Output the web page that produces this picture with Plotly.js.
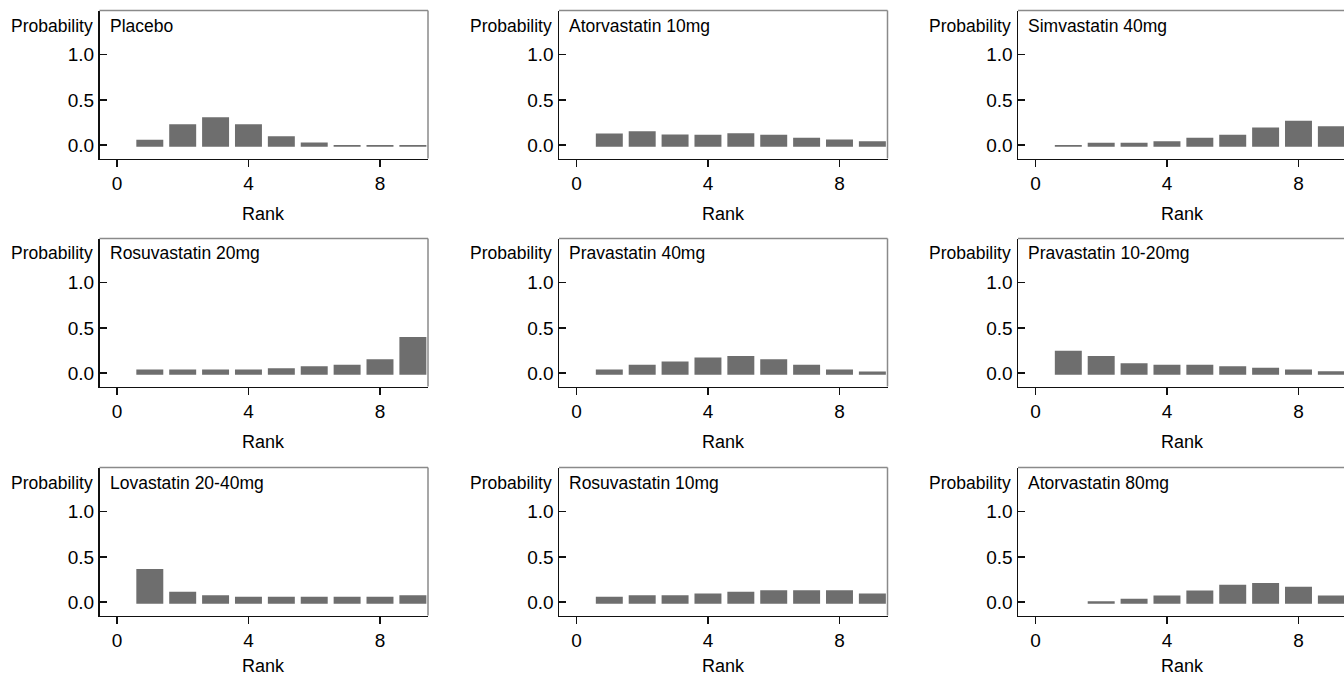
<!DOCTYPE html>
<html>
<head>
<meta charset="utf-8">
<script src="https://cdn.plot.ly/plotly-3.0.1.min.js"></script>
<style>
html, body { margin: 0; padding: 0; background: #fff; overflow: hidden; }
#chart { width: 1348px; height: 678px; }
</style>
</head>
<body>
<div id="chart"></div>
<script>
// ---- Data ----
const ranks = [1, 2, 3, 4, 5, 6, 7, 8, 9];
const treatments = [
  "Placebo", "Atorvastatin 10mg", "Simvastatin 40mg",
  "Rosuvastatin 20mg", "Pravastatin 40mg", "Pravastatin 10-20mg",
  "Lovastatin 20-40mg", "Rosuvastatin 10mg", "Atorvastatin 80mg"
];
const placebo     = [0.06, 0.23, 0.31, 0.23, 0.10, 0.03, 0.001, 0.001, 0.001];
const atorva10    = [0.13, 0.155, 0.118, 0.114, 0.132, 0.114, 0.081, 0.063, 0.044];
const simva40     = [0.002, 0.026, 0.026, 0.044, 0.081, 0.114, 0.195, 0.269, 0.21];
const rosuva20    = [0.04, 0.04, 0.04, 0.04, 0.055, 0.077, 0.092, 0.155, 0.40];
const prava40     = [0.04, 0.092, 0.13, 0.174, 0.189, 0.155, 0.092, 0.04, 0.018];
const prava1020   = [0.248, 0.189, 0.111, 0.092, 0.092, 0.077, 0.059, 0.04, 0.022];
const lova2040    = [0.367, 0.115, 0.078, 0.06, 0.06, 0.06, 0.06, 0.06, 0.078];
const rosuva10    = [0.06, 0.078, 0.078, 0.096, 0.115, 0.133, 0.133, 0.133, 0.096];
const atorva80    = [null, 0.01, 0.037, 0.074, 0.13, 0.193, 0.211, 0.171, 0.074];
const seriesList = [placebo, atorva10, simva40, rosuva20, prava40, prava1020, lova2040, rosuva10, atorva80];
const xTicks = [0, 4, 8];
const yTicks = [0, 0.5, 1.0];
const yTickLabels = ["0.0", "0.5", "1.0"];

// ---- Geometry / style ----
const W = 1348, H = 678;
const colLeft = [99.5, 559, 1018];
const rowTop = [10.5, 238.5, 467.5];
const boxW = 328.5, boxH = 148;
const barBase = -0.018;
const barColor = "#6e6e6e";
const font = "Liberation Sans, Arial, Helvetica, sans-serif";

const data = [];
const layout = {
  width: W, height: H,
  margin: {l: 0, r: 0, t: 0, b: 0},
  paper_bgcolor: "#ffffff", plot_bgcolor: "#ffffff",
  showlegend: false,
  font: {family: font, size: 17, color: "#000"},
  annotations: [], shapes: []
};

seriesList.forEach((vals, i) => {
  const r = Math.floor(i / 3), c = i % 3;
  const n = i + 1;
  const xa = n === 1 ? "x" : "x" + n;
  const ya = n === 1 ? "y" : "y" + n;
  const left = colLeft[c], top = rowTop[r];
  const right = left + boxW, bottom = top + boxH;

  data.push({
    type: "bar",
    x: ranks,
    y: vals.map(v => v == null ? null : v - barBase),
    base: barBase,
    width: 0.82,
    marker: {color: barColor, line: {width: 0}},
    xaxis: xa, yaxis: ya,
    hoverinfo: "skip"
  });

  layout["xaxis" + (n === 1 ? "" : n)] = {
    domain: [left / W, right / W],
    anchor: ya,
    range: [-0.53, 9.46],
    tickvals: xTicks, ticktext: xTicks.map(String),
    ticks: "outside", ticklen: 7, tickwidth: 1.5, tickcolor: "#111",
    showline: true, linecolor: "#111", linewidth: 1.5,
    showgrid: false, zeroline: false,
    tickfont: {size: 19, family: font, color: "#000"},
    fixedrange: true
  };
  layout["yaxis" + (n === 1 ? "" : n)] = {
    domain: [1 - bottom / H, 1 - top / H],
    anchor: xa,
    range: [-0.147, 1.488],
    tickvals: yTicks, ticktext: yTickLabels,
    ticks: "inside", ticklen: 7, tickwidth: 1.5, tickcolor: "#111",
    showline: true, linecolor: "#111", linewidth: 1.5,
    showgrid: false, zeroline: false,
    tickfont: {size: 19, family: font, color: "#000"},
    fixedrange: true
  };

  // gray top & right frame
  layout.shapes.push({type: "line", xref: "paper", yref: "paper",
    x0: left / W, x1: right / W, y0: 1 - top / H, y1: 1 - top / H,
    line: {color: "#8a8a8a", width: 1.5}});
  layout.shapes.push({type: "line", xref: "paper", yref: "paper",
    x0: right / W, x1: right / W, y0: 1 - top / H, y1: 1 - bottom / H,
    line: {color: "#8a8a8a", width: 1.5}});

  layout.annotations.push({
    text: "Probability", xref: "paper", yref: "paper",
    x: (left - 5) / W, y: 1 - (top + 15) / H,
    xanchor: "right", yanchor: "middle", showarrow: false,
    font: {size: 17.5, family: font, color: "#000"}
  });
  layout.annotations.push({
    text: treatments[i], xref: "paper", yref: "paper",
    x: (left + 8) / W, y: 1 - (top + 15) / H,
    xanchor: "left", yanchor: "middle", showarrow: false,
    font: {size: 17.5, family: font, color: "#000"}
  });
  const rankY = Math.min(bottom + 55, H - 12.5);
  layout.annotations.push({
    text: "Rank", xref: "paper", yref: "paper",
    x: (left + boxW / 2) / W, y: 1 - rankY / H,
    xanchor: "center", yanchor: "middle", showarrow: false,
    font: {size: 18, family: font, color: "#000"}
  });
});

Plotly.newPlot("chart", data, layout, {displayModeBar: false, staticPlot: true});
</script>
</body>
</html>
